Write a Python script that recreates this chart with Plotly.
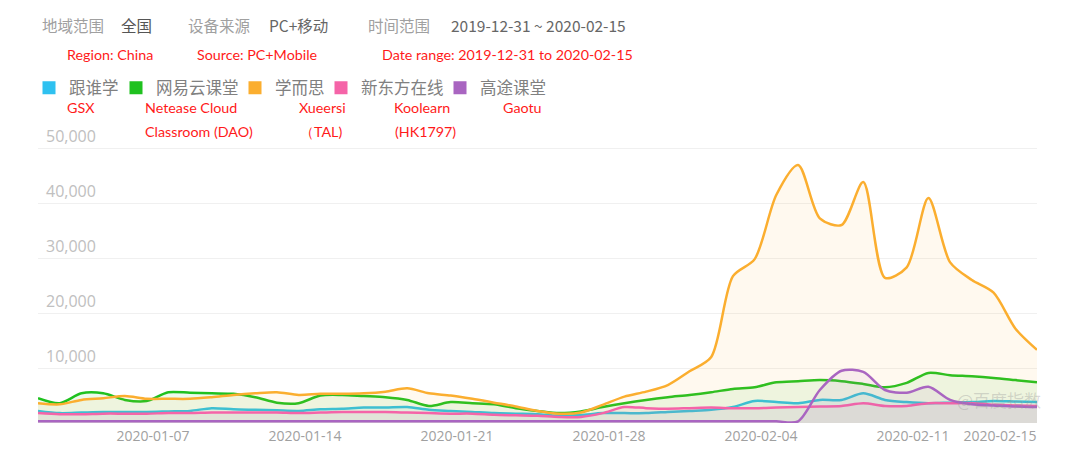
import pandas as pd
import plotly.graph_objects as go

dates = pd.date_range("2019-12-31", "2020-02-15", freq="D")

names = ["跟谁学", "网易云课堂", "学而思", "新东方在线", "高途课堂"]
colors = ["#2fc1f0", "#1fc11f", "#fbae2f", "#f564a8", "#a965c1"]

gsx = [2200, 1800, 1900, 2000, 2000, 2000, 2100, 2200, 2700, 2500,
       2400, 2300, 2200, 2500, 2600, 2800, 2800, 2900, 2400, 2200,
       2000, 1800, 1700, 1600, 1300, 1450, 1800, 1800, 1800, 2000,
       2200, 2400, 2900, 4000, 3800, 3600, 4200, 4200, 5400, 4200,
       3800, 3600, 3700, 3800, 4000, 3900, 3800]
netease = [4500, 3600, 5400, 5400, 4200, 4000, 5600, 5500, 5400, 5300,
           4700, 3700, 3600, 5000, 5100, 4900, 4700, 4200, 3100, 3800,
           3600, 3400, 2700, 2200, 1800, 2100, 2900, 3600, 4200, 4700,
           5100, 5600, 6200, 6500, 7400, 7600, 7800, 7600, 7100, 6500,
           7300, 9100, 8700, 8500, 8200, 7800, 7400]
xueersi = [3600, 3400, 4200, 4500, 4900, 4400, 4400, 4400, 4700, 5100,
           5400, 5600, 5100, 5300, 5300, 5400, 5700, 6300, 5400, 5000,
           4400, 3700, 3000, 2200, 1700, 1900, 3300, 4800, 5700, 6900,
           9400, 12000, 26700, 29800, 41500, 46900, 37200, 36000, 43800, 26400,
           28300, 40900, 29200, 26000, 23700, 17200, 13300]
koolearn = [1800, 1600, 1600, 1700, 1700, 1700, 1800, 1800, 1900, 1900,
            1900, 1900, 1800, 1900, 2000, 2000, 2000, 1900, 1800, 1700,
            1700, 1500, 1400, 1300, 1100, 1100, 1800, 2900, 2700, 2600,
            2700, 2800, 2700, 2700, 2800, 2900, 3000, 3100, 3600, 3100,
            3100, 3600, 3600, 3600, 3300, 3200, 3100]
gaotu = [300] * 36 + [6000, 9500, 9300, 6000, 5500, 6600, 4200, 3400, 3200, 3000, 2900]

series = [gsx, netease, xueersi, koolearn, gaotu]
tick_dates = ["2020-01-07", "2020-01-14", "2020-01-21", "2020-01-28",
              "2020-02-04", "2020-02-11", "2020-02-15"]
y_ticks = [10000, 20000, 30000, 40000, 50000]

# page has an 8px body margin, so the figure is drawn 8px in from the window edge
OFF = 8
W, H = 1077 - OFF, 463 - OFF
L, R, T, B = 30, 40, 107, 40


def px(x, y):
    # window pixel position -> paper coords
    x, y = x - OFF, y - OFF
    return (x - L) / (W - L - R), 1 + (T - y) / (H - T - B)


def rgba(hex_color, a):
    h = hex_color.lstrip("#")
    return "rgba(%d,%d,%d,%s)" % (int(h[0:2], 16), int(h[2:4], 16), int(h[4:6], 16), a)


fig = go.Figure()
for name, vals, c in zip(names, series, colors):
    fig.add_trace(go.Scatter(x=dates, y=vals, mode="lines", name=name,
                             line=dict(color=c, width=2.5, shape="spline", smoothing=0.8),
                             fill="tozeroy", fillcolor=rgba(c, 0.08),
                             showlegend=False, hoverinfo="skip"))

cjk = "Noto Sans CJK SC"
# one small legend per series so each entry sits where the original has it
legend_text_x = [67, 154, 273, 359, 478]
legends = {}
for i, (name, c) in enumerate(zip(names, colors)):
    key = "legend" if i == 0 else "legend%d" % (i + 1)
    fig.add_trace(go.Scatter(x=[None], y=[None], mode="markers", name=name, legend=key,
                             marker=dict(symbol="square", size=13, color=c)))
    lx, ly = px(legend_text_x[i] - 38, 88)
    legends[key] = dict(orientation="h", x=lx, y=ly, xanchor="left", yanchor="middle",
                        font=dict(family=cjk, size=16.5, color="#808080"), itemwidth=30,
                        itemclick=False, bgcolor="rgba(0,0,0,0)")

header = [(40, "地域范围", "#a0a0a0"), (119, "全国", "#555555"),
          (186, "设备来源", "#a0a0a0"), (267, "PC+移动", "#666666"),
          (366, "时间范围", "#a0a0a0"), (449, "2019-12-31 ~ 2020-02-15", "#666666")]
red = [(65, 54, "Region: China"), (195, 54, "Source: PC+Mobile"),
       (380, 54, "Date range: 2019-12-31 to 2020-02-15"),
       (65, 107, "GSX"), (143, 107, "Netease Cloud"), (143, 131, "Classroom (DAO)"),
       (297, 107, "Xueersi"), (298, 131, "（TAL)"), (392, 107, "Koolearn"),
       (393, 131, "(HK1797)"), (501, 107, "Gaotu")]

ann = []
for x, t, col in header:
    ax, ay = px(x, 25)
    ann.append(dict(x=ax, y=ay, xref="paper", yref="paper", text=t, showarrow=False,
                    xanchor="left", yanchor="middle", font=dict(family=cjk, size=15.5, color=col)))
for x, y, t in red:
    ax, ay = px(x, y)
    ann.append(dict(x=ax, y=ay, xref="paper", yref="paper", text=t, showarrow=False,
                    xanchor="left", yanchor="middle", font=dict(family="Lato", size=14.3, color="#ff1a1a")))
wx, wy = px(955, 399)
ann.append(dict(x=wx, y=wy, xref="paper", yref="paper", text="@百度指数", showarrow=False,
                xanchor="left", yanchor="middle", font=dict(family=cjk, size=17, color="rgba(150,150,150,0.35)")))

fig.update_layout(
    width=W, height=H, margin=dict(l=L, r=R, t=T, b=B),
    paper_bgcolor="white", plot_bgcolor="white",
    showlegend=True,
    annotations=ann,
    xaxis=dict(range=[dates[0], dates[-1]], tickvals=tick_dates, ticktext=tick_dates,
               ticklabelposition="outside left", showgrid=False, zeroline=False,
               showline=False, ticks="outside", ticklen=10, tickcolor="rgba(0,0,0,0)",
               tickfont=dict(family="Open Sans", size=14, color="#a0a0a0")),
    yaxis=dict(range=[0, 56000], tickvals=y_ticks, tickformat=",d",
               ticklabelposition="inside top", ticklabelstandoff=5, showgrid=True,
               gridcolor="#f0f0f0", zeroline=False, showline=False,
               tickfont=dict(family="Open Sans", size=16, color="#c0c0c0")),
    **legends,
)

fig.write_html("out.html")
